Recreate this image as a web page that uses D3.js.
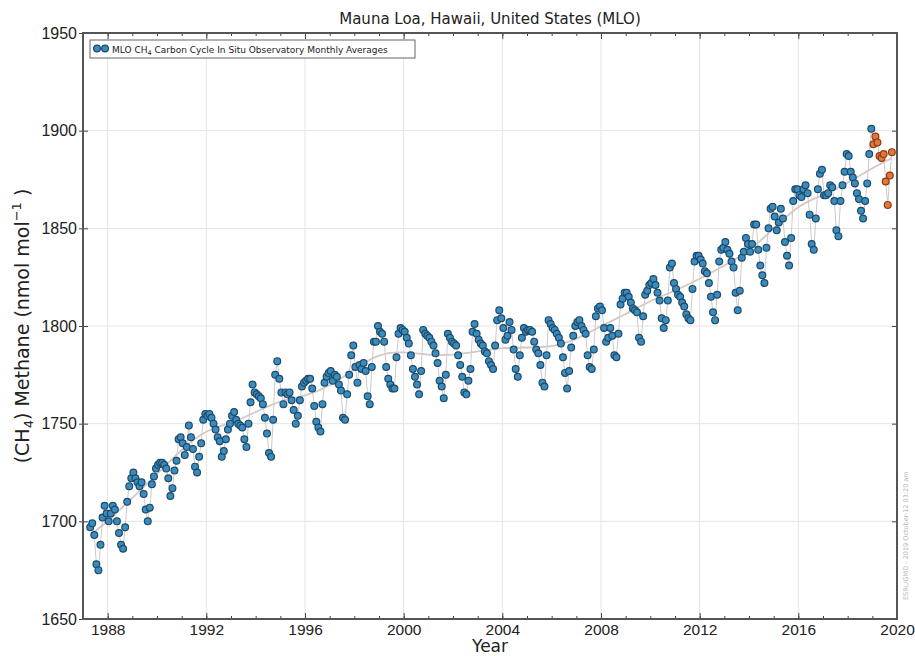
<!DOCTYPE html>
<html lang="en">
<head>
<meta charset="utf-8">
<title>Mauna Loa CH4</title>
<script src="https://cdn.jsdelivr.net/npm/d3@7"></script>
<style>
  body { margin: 0; background: #fff; }
  svg { font-family: "DejaVu Sans", sans-serif; }
  .grid line { stroke: #e4e4e4; stroke-width: 1; }
  .axis path { display: none; }
  .axis line { stroke: #444; }
  .axis text { fill: #222; font-size: 16px; }
  .xlab text { font-size: 15.5px; }
</style>
</head>
<body>
<script>
// monthly CH4 (nmol/mol), starting April 1987
var firstYear = 1987, firstMonth = 4;
var ch4Monthly = [
  1697, 1699, 1693, 1678, 1675, 1688, 1702, 1708, 1704,                     // 1987
  1700, 1704, 1708, 1706, 1700, 1694, 1688, 1686, 1697, 1710, 1718, 1722,   // 1988
  1725, 1722, 1720, 1718, 1720, 1714, 1706, 1700, 1707, 1719, 1723, 1727,   // 1989
  1729, 1730, 1730, 1729, 1727, 1722, 1713, 1717, 1726, 1731, 1742, 1743,   // 1990
  1740, 1734, 1738, 1749, 1743, 1737, 1728, 1725, 1733, 1740, 1752, 1755,   // 1991
  1754, 1755, 1753, 1750, 1747, 1743, 1741, 1733, 1736, 1742, 1747, 1750,   // 1992
  1754, 1756, 1752, 1750, 1749, 1748, 1742, 1738, 1750, 1761, 1770, 1766,   // 1993
  1765, 1764, 1763, 1760, 1753, 1745, 1735, 1733, 1752, 1775, 1782, 1773,   // 1994
  1766, 1760, 1766, 1765, 1766, 1762, 1757, 1750, 1754, 1762, 1769, 1771,   // 1995
  1772, 1773, 1773, 1768, 1759, 1751, 1748, 1746, 1760, 1771, 1774, 1776,   // 1996
  1777, 1772, 1775, 1774, 1770, 1767, 1753, 1752, 1765, 1775, 1785, 1790,   // 1997
  1779, 1771, 1780, 1778, 1781, 1777, 1764, 1760, 1779, 1792, 1792, 1800,   // 1998
  1797, 1796, 1792, 1779, 1773, 1770, 1768, 1768, 1784, 1796, 1799, 1798,   // 1999
  1797, 1794, 1791, 1785, 1778, 1774, 1770, 1765, 1777, 1798, 1796, 1795,   // 2000
  1794, 1792, 1790, 1786, 1781, 1772, 1769, 1763, 1775, 1796, 1794, 1792,   // 2001
  1791, 1790, 1785, 1780, 1774, 1766, 1765, 1772, 1778, 1797, 1801, 1796,   // 2002
  1793, 1791, 1790, 1787, 1786, 1782, 1780, 1778, 1790, 1803, 1808, 1804,   // 2003
  1799, 1793, 1795, 1802, 1798, 1788, 1778, 1774, 1785, 1794, 1799, 1797,   // 2004
  1798, 1798, 1797, 1792, 1788, 1786, 1780, 1771, 1769, 1785, 1803, 1801,   // 2005
  1799, 1798, 1796, 1794, 1791, 1784, 1776, 1768, 1777, 1789, 1795, 1800,   // 2006
  1802, 1803, 1800, 1798, 1796, 1785, 1779, 1778, 1788, 1805, 1809, 1810,   // 2007
  1808, 1799, 1792, 1794, 1799, 1795, 1785, 1784, 1796, 1811, 1814, 1817,   // 2008
  1817, 1815, 1812, 1809, 1808, 1807, 1794, 1792, 1805, 1816, 1818, 1821,   // 2009
  1822, 1824, 1821, 1817, 1813, 1804, 1799, 1803, 1813, 1830, 1832, 1822,   // 2010
  1819, 1816, 1815, 1812, 1810, 1806, 1804, 1803, 1819, 1833, 1836, 1836,   // 2011
  1834, 1832, 1828, 1827, 1822, 1815, 1807, 1803, 1816, 1833, 1839, 1840,   // 2012
  1843, 1839, 1837, 1833, 1830, 1817, 1808, 1818, 1835, 1838, 1845, 1842,   // 2013
  1838, 1842, 1852, 1852, 1839, 1831, 1826, 1822, 1840, 1850, 1860, 1861,   // 2014
  1856, 1849, 1853, 1860, 1855, 1843, 1836, 1831, 1845, 1864, 1870, 1870,   // 2015
  1867, 1866, 1870, 1872, 1868, 1857, 1842, 1839, 1855, 1870, 1878, 1880,   // 2016
  1867, 1867, 1868, 1872, 1871, 1864, 1849, 1846, 1864, 1872, 1879, 1888,   // 2017
  1887, 1879, 1876, 1873, 1868, 1865, 1859, 1855, 1864, 1873, 1888, 1901    // 2018
];
// preliminary months, Jan-Oct 2019
var ch4Prelim = [1893, 1897, 1894, 1887, 1886, 1888, 1874, 1862, 1877, 1889];

// smoothed trend
var trendYears = [1987.3, 1988, 1989, 1990, 1991, 1992, 1993, 1994, 1995, 1996, 1997, 1998,
  1999, 2000, 2001, 2002, 2003, 2004, 2005, 2006, 2007, 2008, 2009, 2010, 2011, 2012,
  2013, 2014, 2015, 2016, 2017, 2018, 2019, 2019.8];
var trendValues = [1693, 1700, 1712, 1724, 1737, 1747, 1750, 1756, 1762, 1764, 1769, 1778,
  1786, 1787, 1785, 1785, 1787, 1789, 1789, 1789, 1793, 1800, 1806, 1813, 1818, 1824,
  1831, 1838, 1850, 1862, 1867, 1873, 1881, 1886];

var xTicks = [1988, 1992, 1996, 2000, 2004, 2008, 2012, 2016, 2020];
var yTicks = [1650, 1700, 1750, 1800, 1850, 1900, 1950];

var W = 915, H = 656;
var mL = 83, mR = 897, mT = 33, mB = 619;

function toPoints(vals, y0, m0, prelim) {
  return vals.map(function(v, i) {
    var m = m0 - 1 + i;
    return { t: y0 + Math.floor(m / 12) + ((m % 12) + 0.5) / 12, v: v, prelim: prelim };
  });
}
var blue = toPoints(ch4Monthly, firstYear, firstMonth, false);
var orange = toPoints(ch4Prelim, 2019, 1, true);
var all = blue.concat(orange);

var x = d3.scaleLinear().domain([1987, 2020]).range([mL, mR]);
var y = d3.scaleLinear().domain([1650, 1950]).range([mB, mT]);

var svg = d3.select("body").append("svg")
  .attr("width", W).attr("height", H);

// grid
var grid = svg.append("g").attr("class", "grid");
grid.selectAll("line.gx").data(xTicks).enter().append("line")
  .attr("class", "gx")
  .attr("x1", function(d){ return x(d); }).attr("x2", function(d){ return x(d); })
  .attr("y1", mT).attr("y2", mB);
grid.selectAll("line.gy").data(yTicks).enter().append("line")
  .attr("class", "gy")
  .attr("x1", mL).attr("x2", mR)
  .attr("y1", function(d){ return y(d); }).attr("y2", function(d){ return y(d); });

// axes: majors inside, yearly minors on x
var minorYears = d3.range(1987, 2021);
svg.append("g").attr("class", "axis")
  .attr("transform", "translate(0," + mB + ")")
  .call(d3.axisBottom(x).tickValues(minorYears).tickSize(-3).tickFormat(""));
svg.append("g").attr("class", "axis")
  .attr("transform", "translate(0," + mT + ")")
  .call(d3.axisTop(x).tickValues(minorYears).tickSize(-3).tickFormat(""));
svg.append("g").attr("class", "axis xlab")
  .attr("transform", "translate(0," + mB + ")")
  .call(d3.axisBottom(x).tickValues(xTicks).tickSize(-6).tickPadding(5).tickFormat(d3.format("d")));
svg.append("g").attr("class", "axis")
  .attr("transform", "translate(0," + mT + ")")
  .call(d3.axisTop(x).tickValues(xTicks).tickSize(-6).tickFormat(""));
svg.append("g").attr("class", "axis")
  .attr("transform", "translate(" + mL + ",0)")
  .call(d3.axisLeft(y).tickValues(yTicks).tickSize(4).tickPadding(2).tickFormat(d3.format("d")));
svg.append("g").attr("class", "axis")
  .attr("transform", "translate(" + mL + ",0)")
  .call(d3.axisRight(y).tickValues(yTicks).tickSize(5).tickFormat(""));
svg.append("g").attr("class", "axis")
  .attr("transform", "translate(" + mR + ",0)")
  .call(d3.axisLeft(y).tickValues(yTicks).tickSize(5).tickFormat(""));

// connecting line and trend
svg.append("path")
  .datum(all)
  .attr("fill", "none")
  .attr("stroke", "#cfcaca")
  .attr("stroke-width", 1)
  .attr("d", d3.line().x(function(d){ return x(d.t); }).y(function(d){ return y(d.v); }));

svg.append("path")
  .datum(d3.zip(trendYears, trendValues))
  .attr("fill", "none")
  .attr("stroke", "#d2c8c6")
  .attr("stroke-width", 1.8)
  .attr("d", d3.line().curve(d3.curveBasis)
    .x(function(d){ return x(d[0]); }).y(function(d){ return y(d[1]); }));

// points
svg.append("g").selectAll("circle").data(all).enter().append("circle")
  .attr("cx", function(d){ return x(d.t); })
  .attr("cy", function(d){ return y(d.v); })
  .attr("r", 3.4)
  .attr("fill", function(d){ return d.prelim ? "#e0783c" : "#3a8cbf"; })
  .attr("stroke", function(d){ return d.prelim ? "#8c3b12" : "#1d4a68"; })
  .attr("stroke-width", 1.2);

// frame
svg.append("rect")
  .attr("x", mL).attr("y", mT)
  .attr("width", mR - mL).attr("height", mB - mT)
  .attr("fill", "none").attr("stroke", "#555").attr("stroke-width", 2);

// legend
var lg = svg.append("g");
lg.append("rect")
  .attr("x", 90).attr("y", 40).attr("width", 325).attr("height", 18)
  .attr("fill", "#fff").attr("stroke", "#666").attr("stroke-width", 1);
[97, 105].forEach(function(cx) {
  lg.append("circle").attr("cx", cx).attr("cy", 48.5).attr("r", 3.4)
    .attr("fill", "#3a8cbf").attr("stroke", "#1d4a68").attr("stroke-width", 1.2);
});
var lt = lg.append("text").attr("x", 112).attr("y", 52.5)
  .style("font-size", "9px").attr("fill", "#222");
lt.append("tspan").text("MLO CH");
lt.append("tspan").attr("dy", 2).style("font-size", "6.5px").text("4");
lt.append("tspan").attr("dy", -2).text(" Carbon Cycle In Situ Observatory Monthly Averages");

// titles
svg.append("text")
  .attr("x", (mL + mR) / 2).attr("y", 24)
  .attr("text-anchor", "middle")
  .style("font-size", "15px").attr("fill", "#222")
  .text("Mauna Loa, Hawaii, United States (MLO)");

svg.append("text")
  .attr("x", (mL + mR) / 2).attr("y", 652)
  .attr("text-anchor", "middle")
  .style("font-size", "17px").attr("fill", "#222")
  .text("Year");

var yl = svg.append("text")
  .attr("transform", "translate(29," + ((mT + mB) / 2) + ") rotate(-90)")
  .attr("text-anchor", "middle")
  .style("font-size", "19px").attr("fill", "#222");
yl.append("tspan").text("(CH");
yl.append("tspan").attr("dy", 4).style("font-size", "13px").text("4");
yl.append("tspan").attr("dy", -4).text(") Methane (nmol mol");
yl.append("tspan").attr("dy", -8).style("font-size", "13px").text("\u22121");
yl.append("tspan").attr("dy", 8).text(" )");

// stamp on right
svg.append("text")
  .attr("transform", "translate(908,600) rotate(-90)")
  .style("font-size", "6.5px").attr("fill", "#b5b5b5")
  .text("ESRL/GMD - 2019 October-12 03:20 am");
</script>
</body>
</html>
